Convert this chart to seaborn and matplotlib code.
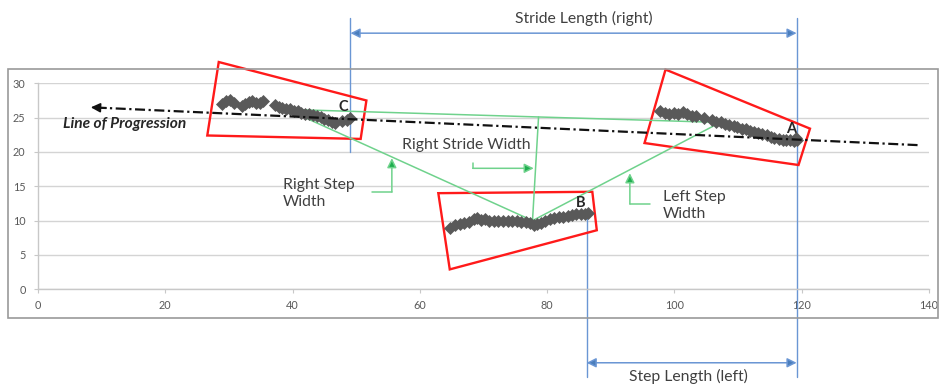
import numpy as np
import pandas as pd
import matplotlib
matplotlib.use("Agg")
import matplotlib.pyplot as plt
from matplotlib.patches import Polygon, Rectangle
import seaborn as sns

# Foot-marker trajectories (x, y) for the three contacts
contact_c_x = [28.9, 29.5, 30.2, 30.8, 32.0, 32.6, 33.1, 33.7, 34.3, 34.9, 35.3,
               37.3, 37.9, 38.4, 39.0, 39.6, 40.2, 40.8, 41.4, 42.0, 42.6, 43.2,
               43.8, 44.4, 45.0, 45.6, 46.2, 46.7, 47.7, 48.6, 49.0]
contact_c_y = [27.0, 27.4, 27.6, 27.1, 26.7, 27.0, 27.3, 27.4, 27.1, 27.2, 27.4,
               26.8, 26.5, 26.4, 26.2, 26.2, 26.0, 25.9, 25.7, 25.6, 25.5, 25.4,
               25.3, 25.1, 24.8, 24.6, 24.4, 24.2, 24.5, 24.7, 25.0]

contact_b_x = [64.8, 65.5, 66.3, 67.0, 67.8, 68.5, 69.0, 69.6, 70.2, 70.9, 71.6,
               72.3, 73.0, 73.8, 74.5, 75.2, 75.9, 76.6, 77.3, 77.9, 78.4, 79.0,
               79.7, 80.4, 81.1, 81.8, 82.5, 83.2, 83.9, 84.6, 85.3, 86.0, 86.4]
contact_b_y = [9.0, 9.3, 9.5, 9.6, 9.8, 10.2, 10.4, 10.1, 10.2, 10.0, 10.0,
               10.0, 9.95, 10.0, 9.9, 9.9, 9.85, 9.8, 9.6, 9.3, 9.5, 9.7,
               10.0, 10.2, 10.4, 10.5, 10.6, 10.7, 10.8, 10.9, 11.0, 11.0, 11.1]

contact_a_x = [97.8, 98.5, 99.2, 99.9, 100.6, 101.3, 102.0, 102.7, 103.4, 104.6,
               105.9, 106.6, 107.3, 108.0, 108.6, 109.3, 109.9, 110.6, 111.2,
               111.9, 112.5, 113.2, 113.8, 114.5, 115.1, 115.7, 116.4, 117.0,
               117.6, 118.2, 118.8, 119.3, 119.1]
contact_a_y = [25.9, 25.7, 25.5, 25.7, 25.5, 25.8, 25.5, 25.3, 25.2, 25.0,
               24.6, 24.4, 24.3, 24.1, 23.9, 23.8, 23.6, 23.4, 23.3,
               23.1, 22.95, 22.8, 22.6, 22.4, 22.2, 22.0, 21.9, 21.8,
               21.7, 21.7, 21.6, 21.8, 22.1]

x_ticks = [0, 20, 40, 60, 80, 100, 120, 140]
y_ticks = [0, 5, 10, 15, 20, 25, 30]

# Reference points of the gait construction
heel_c = (39.1, 26.2)
heel_a = (107.2, 24.3)
heel_b = (77.7, 10.0)
stride_foot = (78.65, 25.1)
progression_start = (138.2, 21.0)
progression_tip = (8.3, 26.5)
stride_left_x = 49.1
stride_right_x = 119.2
step_left_x = 86.2

box_c = [(28.4, 33.1), (51.6, 27.5), (50.7, 21.9), (26.6, 22.4)]
box_b = [(62.9, 14.0), (87.1, 14.2), (87.8, 8.6), (64.7, 2.9)]
box_a = [(98.6, 32.0), (121.3, 23.4), (119.5, 18.1), (95.3, 21.3)]

df = pd.DataFrame({
    "x": contact_c_x + contact_b_x + contact_a_x,
    "y": contact_c_y + contact_b_y + contact_a_y,
})

sns.set_style("white")
plt.rcParams["font.family"] = ["Lato", "DejaVu Sans"]

fig = plt.figure(figsize=(9.4, 3.87), dpi=100)
ax = fig.add_axes([38 / 940, (387 - 289.3) / 387, (929 - 38) / 940, (289.3 - 83.3) / 387])

# chart-area frame
fig.patches.append(Rectangle((8 / 940, (387 - 318) / 387), (938 - 8) / 940, (318 - 69) / 387,
                             transform=fig.transFigure, fill=False,
                             edgecolor="#9a9a9a", lw=1.2, zorder=0))

sns.scatterplot(data=df, x="x", y="y", marker="D", s=44, color="#595959",
                edgecolor="#595959", linewidth=0, ax=ax, zorder=4, legend=False)

ax.set_xlim(0, 140)
ax.set_ylim(0, 30)
ax.set_xticks(x_ticks)
ax.set_yticks(y_ticks)
ax.set_xlabel("")
ax.set_ylabel("")
ax.yaxis.grid(True, color="#d4d4d4", lw=1)
ax.xaxis.grid(False)
ax.set_axisbelow(True)
for side in ("top", "right"):
    ax.spines[side].set_visible(False)
for side in ("left", "bottom"):
    ax.spines[side].set_color("#c8c8c8")
    ax.spines[side].set_linewidth(1)
ax.tick_params(axis="both", length=3, width=0.8, color="#c8c8c8",
               labelsize=7.8, labelcolor="#595959")
ax.tick_params(axis="x", pad=5, bottom=True)
ax.tick_params(axis="y", pad=6, left=True)

# red outlines around each contact
for box in (box_c, box_b, box_a):
    ax.add_patch(Polygon(box, closed=True, fill=False, edgecolor="#ff1a1a",
                         lw=1.7, clip_on=False, zorder=3))

# green step / stride construction lines
green = "#6fd28c"
green_dark = "#1fae4f"
for p, q in ((heel_c, heel_a), (heel_c, heel_b), (heel_b, heel_a), (heel_b, stride_foot)):
    ax.plot([p[0], q[0]], [p[1], q[1]], color=green, lw=1.1, zorder=3)

# line of progression
ax.plot([progression_start[0], progression_tip[0] + 1.5],
        [progression_start[1], progression_tip[1] - 0.06],
        color="#111111", lw=1.6, linestyle=(0, (4.5, 1.6, 1.0, 1.6)), zorder=6)
ax.annotate("", xy=progression_tip, xytext=(progression_tip[0] + 2.4, progression_tip[1] - 0.1),
            arrowprops=dict(arrowstyle="-|>", color="#111111", lw=1.2,
                            mutation_scale=14, shrinkA=0, shrinkB=0),
            annotation_clip=False, zorder=6)


def elbow(points, tip):
    xs = [p[0] for p in points]
    ys = [p[1] for p in points]
    ax.plot(xs, ys, color=green, lw=1.1, zorder=3, clip_on=False)
    ax.annotate("", xy=tip, xytext=points[-1],
                arrowprops=dict(arrowstyle="-|>", color=green, lw=1.1,
                                mutation_scale=14, shrinkA=0, shrinkB=0,
                                fc=green_dark, ec=green),
                annotation_clip=False, zorder=3)


elbow([(52.5, 14.17), (55.6, 14.17)], (55.6, 19.1))
elbow([(68.3, 18.44), (68.3, 17.62)], (77.9, 17.62))
elbow([(96.2, 12.42), (93.0, 12.42)], (93.0, 16.9))

# blue length dimensions
blue = "#6a96d4"
blue_dark = "#4a7ebb"
ax.plot([stride_left_x, stride_left_x], [39.5, 20.0], color=blue, lw=1, clip_on=False, zorder=2)
ax.plot([stride_right_x, stride_right_x], [39.5, -12.8], color=blue, lw=1, clip_on=False, zorder=2)
ax.plot([step_left_x, step_left_x], [11.0, -12.8], color=blue, lw=1, clip_on=False, zorder=2)
for y, x0, x1 in ((37.3, stride_left_x, stride_right_x), (-10.7, step_left_x, stride_right_x)):
    ax.annotate("", xy=(x1, y), xytext=(x0, y),
                arrowprops=dict(arrowstyle="<|-|>", color=blue, lw=1.1,
                                mutation_scale=14, shrinkA=0, shrinkB=0,
                                fc=blue_dark, ec=blue),
                annotation_clip=False)

txt = dict(color="#404040", fontsize=11.3, clip_on=False)
ax.text(85.7, 39.5, "Stride Length (right)", ha="center", va="center", **txt)
ax.text(102.2, -12.7, "Step Length (left)", ha="center", va="center", **txt)
ax.text(57.15, 21.0, "Right Stride Width", ha="left", va="center", **txt)
ax.text(38.45, 14.0, "Right Step\nWidth", ha="left", va="center", linespacing=1.25, **txt)
ax.text(98.2, 12.2, "Left Step\nWidth", ha="left", va="center", linespacing=1.25, **txt)
ax.text(4.0, 24.07, "Line of Progression", ha="left", va="center", style="italic",
        fontweight="bold", color="#262626", fontsize=11.2)

lbl = dict(color="#262626", fontsize=10.5, fontweight="bold", ha="center", va="center")
ax.text(48.0, 26.6, "C", **lbl)
ax.text(85.2, 12.6, "B", **lbl)
ax.text(118.3, 23.3, "A", **lbl)

fig.savefig("out.png", dpi=100)
